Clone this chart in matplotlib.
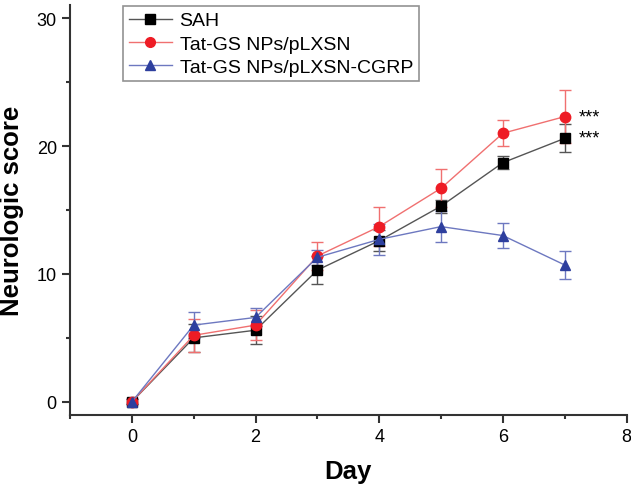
import matplotlib
matplotlib.use("Agg")
import matplotlib.pyplot as plt
from matplotlib.ticker import MultipleLocator
from matplotlib.lines import Line2D

plt.rcParams['font.family'] = ['Liberation Sans', 'DejaVu Sans']

days = [0, 1, 2, 3, 4, 5, 6, 7]
sah = [0, 5.0, 5.6, 10.3, 12.6, 15.3, 18.7, 20.6]
sah_err = [0.2, 1.1, 1.1, 1.1, 0.8, 0.5, 0.5, 1.1]
red = [0, 5.2, 6.0, 11.4, 13.7, 16.7, 21.0, 22.3]
red_err = [0.2, 1.3, 1.2, 1.1, 1.5, 1.5, 1.0, 2.1]
blue = [0, 6.0, 6.6, 11.3, 12.7, 13.7, 13.0, 10.7]
blue_err = [0.2, 1.0, 0.7, 0.6, 1.2, 1.2, 1.0, 1.1]
labels = ["SAH", "Tat-GS NPs/pLXSN", "Tat-GS NPs/pLXSN-CGRP"]

fig = plt.figure(figsize=(6.31, 4.85), dpi=100)
ax = fig.add_axes([0.111, 0.143, 0.882, 0.844])

series = [
    (sah, sah_err, '#000000', '#555555', 's', labels[0]),
    (red, red_err, '#ee1c25', '#f07070', 'o', labels[1]),
    (blue, blue_err, '#2e3f9e', '#6d78c0', '^', labels[2]),
]
handles = []
for vals, err, mc, lc, mk, lab in series:
    ax.errorbar(days, vals, yerr=err, color=lc, ecolor=lc, elinewidth=1.0,
                capsize=4, capthick=1.0, lw=1.0, marker=mk, markersize=7.5,
                markerfacecolor=mc, markeredgecolor=mc)
    handles.append(Line2D([], [], color=lc, lw=1.0, marker=mk, markersize=7,
                          markerfacecolor=mc, markeredgecolor=mc, label=lab))

ax.text(7.22, red[7], "***", fontsize=13, va='center', ha='left')
ax.text(7.22, sah[7], "***", fontsize=13, va='center', ha='left')

ax.set_xlim(-1, 8)
ax.set_ylim(-1, 31)
ax.xaxis.set_major_locator(MultipleLocator(2))
ax.xaxis.set_minor_locator(MultipleLocator(1))
ax.yaxis.set_major_locator(MultipleLocator(10))
ax.yaxis.set_minor_locator(MultipleLocator(5))
ax.spines['top'].set_visible(False)
ax.spines['right'].set_visible(False)
for s in ['left', 'bottom']:
    ax.spines[s].set_linewidth(1.5)
    ax.spines[s].set_color('#333333')
ax.tick_params(which='major', direction='out', length=6, width=1.5, labelsize=13, colors='#333333', labelcolor='black')
ax.tick_params(which='minor', direction='out', length=3, width=1.5, colors='#333333')

ax.set_xlabel("Day", fontsize=18.5, fontweight='bold', labelpad=10)
ax.set_ylabel("Neurologic score", fontsize=18.5, fontweight='bold', labelpad=9)

leg = ax.legend(handles=handles, loc='upper left', bbox_to_anchor=(0.078, 1.022), fontsize=14,
                frameon=True, fancybox=False, edgecolor='#777777',
                handlelength=2.2, borderpad=0.3, labelspacing=0.28, handletextpad=0.4)
leg.get_frame().set_linewidth(1.2)

fig.savefig("out.png", dpi=100)
